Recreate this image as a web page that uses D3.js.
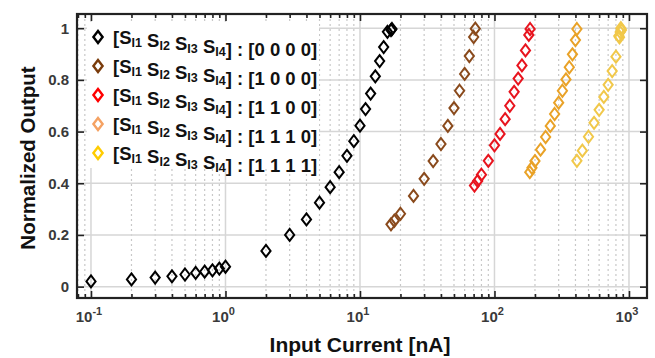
<!DOCTYPE html>
<html lang="en">
<head>
<meta charset="UTF-8">
<title>Normalized Output vs Input Current</title>
<script src="https://cdn.jsdelivr.net/npm/d3@7"></script>
<style>
  body { margin: 0; background: #fff; }
  text { font-family: Arial, "Liberation Sans", sans-serif; font-weight: bold; }
</style>
</head>
<body>
<script>
// data
const codes = ["[0 0 0 0]", "[1 0 0 0]", "[1 1 0 0]", "[1 1 1 0]", "[1 1 1 1]"];
const pointColors = ["#000000", "#8a4a1c", "#e8141e", "#e9a227", "#f1c84a"];
const legendColors = ["#000000", "#7a3c0c", "#ff0000", "#f5a263", "#ffcc00"];

const x0000 = [0.1, 0.2, 0.3, 0.4, 0.5, 0.6, 0.7, 0.8, 0.9, 1, 2, 3, 4, 5, 6, 7, 8, 9, 10, 11, 12, 13, 14, 15, 16, 17, 17.3];
const y0000 = [0.02, 0.028, 0.035, 0.04, 0.047, 0.053, 0.058, 0.063, 0.07, 0.077, 0.138, 0.2, 0.26, 0.325, 0.385, 0.443, 0.506, 0.563, 0.623, 0.687, 0.747, 0.814, 0.873, 0.927, 0.986, 0.993, 0.997];

const x1000 = [17, 18, 20, 25, 30, 35, 40, 45, 50, 55, 60, 65, 70, 72];
const y1000 = [0.241, 0.255, 0.282, 0.351, 0.417, 0.486, 0.552, 0.622, 0.691, 0.758, 0.823, 0.892, 0.966, 0.998];

const x1100 = [71, 75, 80, 90, 100, 110, 120, 130, 140, 150, 160, 170, 180, 184];
const y1100 = [0.391, 0.409, 0.433, 0.487, 0.547, 0.591, 0.648, 0.70, 0.754, 0.805, 0.856, 0.914, 0.974, 0.997];

const x1110 = [183, 190, 200, 220, 240, 260, 280, 300, 320, 340, 360, 380, 400, 410];
const y1110 = [0.443, 0.46, 0.486, 0.53, 0.579, 0.622, 0.668, 0.712, 0.758, 0.802, 0.849, 0.899, 0.954, 0.997];

const x1111 = [410, 450, 500, 550, 600, 650, 700, 750, 800, 840, 850, 860, 870, 880];
const y1111 = [0.487, 0.526, 0.58, 0.634, 0.684, 0.734, 0.781, 0.834, 0.89, 0.97, 0.965, 0.985, 1.0, 0.993];

const xs = [x0000, x1000, x1100, x1110, x1111];
const ys = [y0000, y1000, y1100, y1110, y1111];

const yTicks = [0, 0.2, 0.4, 0.6, 0.8, 1];
const xDecades = [-1, 0, 1, 2, 3];

const width = 655, height = 358;
const margin = {top: 14, right: 8, bottom: 60, left: 77};
const iw = width - margin.left - margin.right;
const ih = height - margin.top - margin.bottom;

const svg = d3.select("body").append("svg")
  .attr("width", width)
  .attr("height", height);

const x = d3.scaleLog().domain([Math.pow(10, -1.104), Math.pow(10, 3.134)]).range([0, iw]);
const y = d3.scaleLinear().domain([-0.044, 1.055]).range([ih, 0]);

const g = svg.append("g").attr("transform", `translate(${margin.left},${margin.top})`);

// minor x positions
const minor = [];
for (let e = -2; e <= 3; e++) {
  for (let k = 2; k <= 9; k++) {
    const v = k * Math.pow(10, e);
    if (v > x.domain()[0] && v < x.domain()[1]) minor.push(v);
  }
}
const majors = xDecades.map(d => Math.pow(10, d));

// grid
g.append("g").selectAll("line").data(minor).join("line")
  .attr("x1", d => x(d)).attr("x2", d => x(d))
  .attr("y1", 0).attr("y2", ih)
  .attr("stroke", "#c8c8c8").attr("stroke-width", 1.2)
  .attr("stroke-dasharray", "2,3");

g.append("g").selectAll("line").data(majors).join("line")
  .attr("x1", d => x(d)).attr("x2", d => x(d))
  .attr("y1", 0).attr("y2", ih)
  .attr("stroke", "#d6d6d6").attr("stroke-width", 1.5);

g.append("g").selectAll("line").data(yTicks).join("line")
  .attr("x1", 0).attr("x2", iw)
  .attr("y1", d => y(d)).attr("y2", d => y(d))
  .attr("stroke", "#d6d6d6").attr("stroke-width", 1.5);

// legend background (covers the grid)
g.append("rect")
  .attr("x", 10).attr("y", 8)
  .attr("width", 232).attr("height", 146)
  .attr("fill", "#fff");

// inward ticks via axes
const axB = d3.axisBottom(x).tickValues(majors).tickSize(-7).tickFormat("");
const axBm = d3.axisBottom(x).tickValues(minor).tickSize(-4).tickFormat("");
const axT = d3.axisTop(x).tickValues(majors).tickSize(-7).tickFormat("");
const axTm = d3.axisTop(x).tickValues(minor).tickSize(-4).tickFormat("");
const axL = d3.axisLeft(y).tickValues(yTicks).tickSize(-7).tickFormat("");
const axR = d3.axisRight(y).tickValues(yTicks).tickSize(-7).tickFormat("");

function styleAxis(sel) {
  sel.select(".domain").remove();
  sel.selectAll(".tick line").attr("stroke", "#222").attr("stroke-width", 1.6);
}
g.append("g").attr("transform", `translate(0,${ih})`).call(axB).call(styleAxis);
g.append("g").attr("transform", `translate(0,${ih})`).call(axBm).call(styleAxis);
g.append("g").call(axT).call(styleAxis);
g.append("g").call(axTm).call(styleAxis);
g.append("g").call(axL).call(styleAxis);
g.append("g").attr("transform", `translate(${iw},0)`).call(axR).call(styleAxis);

// frame
g.append("rect").attr("width", iw).attr("height", ih)
  .attr("fill", "none").attr("stroke", "#222").attr("stroke-width", 2.2);

// tick labels
g.append("g").selectAll("text").data(yTicks).join("text")
  .attr("x", -8).attr("y", d => y(d)).attr("dy", "0.36em")
  .attr("text-anchor", "end").attr("font-size", 15).attr("fill", "#3a3a3a")
  .text(d => d === 0 || d === 1 ? d : d.toFixed(1));

const xl = g.append("g").selectAll("text").data(xDecades).join("text")
  .attr("x", d => x(Math.pow(10, d)) - 2).attr("y", ih + 24)
  .attr("text-anchor", "middle").attr("font-size", 15).attr("fill", "#3a3a3a");
xl.append("tspan").text("10");
xl.append("tspan").attr("dy", -7).attr("font-size", 11).text(d => d);

// axis titles
svg.append("text")
  .attr("x", margin.left + iw / 2 - 2).attr("y", 352)
  .attr("text-anchor", "middle").attr("font-size", 21).attr("fill", "#111")
  .text("Input Current [nA]");
svg.append("text")
  .attr("transform", `translate(35,${margin.top + ih / 2 + 2}) rotate(-90)`)
  .attr("text-anchor", "middle").attr("font-size", 20.5).attr("fill", "#111")
  .text("Normalized Output");

// markers
const diamond = "M0,-6L4.6,0L0,6L-4.6,0Z";
xs.forEach((xv, i) => {
  g.append("g").selectAll("path").data(xv.map((v, j) => [v, ys[i][j]])).join("path")
    .attr("transform", d => `translate(${x(d[0])},${y(d[1])})`)
    .attr("d", diamond)
    .attr("fill", "none")
    .attr("stroke", pointColors[i])
    .attr("stroke-width", 2);
});

// legend
const leg = g.append("g").attr("transform", "translate(21,23)");
const rows = leg.selectAll("g").data(codes).join("g")
  .attr("transform", (d, i) => `translate(0,${i * 29})`);
rows.append("path").attr("d", diamond)
  .attr("fill", "none").attr("stroke", (d, i) => legendColors[i]).attr("stroke-width", 2.4);
const t = rows.append("text").attr("x", 15).attr("dy", "0.36em")
  .attr("font-size", 18.5).attr("fill", "#111");
t.append("tspan").text("[");
[1, 2, 3, 4].forEach(k => {
  t.append("tspan").text(k === 1 ? "S" : " S");
  t.append("tspan").attr("font-size", 12.5).attr("dy", 3).text("I" + k);
  t.append("tspan").attr("dy", -3).text("");
});
t.append("tspan").each(function(d) { d3.select(this).text("] : " + d); });
</script>
</body>
</html>
